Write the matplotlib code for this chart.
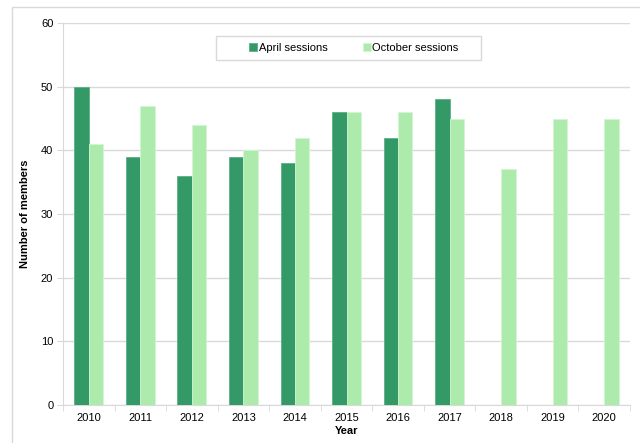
import numpy as np
import matplotlib.pyplot as plt
from matplotlib.patches import Rectangle

plt.rcParams['font.family'] = ['Liberation Sans', 'DejaVu Sans']

years = ['2010', '2011', '2012', '2013', '2014', '2015', '2016', '2017', '2018', '2019', '2020']
april = [50, 39, 36, 39, 38, 46, 42, 48, np.nan, np.nan, np.nan]
october = [41, 47, 44, 40, 42, 46, 46, 45, 37, 45, 45]

dark = '#339966'
light = '#ADEBAD'

fig = plt.figure(figsize=(6.4, 4.43), dpi=100)
# outer chart frame
fig.patches.append(Rectangle((12 / 640, -0.05), 1.0, 1 - 7 / 443 + 0.05, transform=fig.transFigure,
                             fill=False, edgecolor='#D9D9D9', linewidth=1.0))
ax = fig.add_axes([63 / 640, 38 / 443, 567 / 640, 382 / 443])

x = np.arange(len(years))
w = 0.28
ax.bar(x - w / 2, april, w, color=dark, edgecolor='#5DB085', linewidth=0.6, label='April sessions', zorder=3)
ax.bar(x + w / 2, october, w, color=light, edgecolor='#D4F5D4', linewidth=0.6, label='October sessions', zorder=3)

ax.set_xlim(-0.5, len(years) - 0.5)
ax.set_ylim(0, 60)
ax.set_yticks(range(0, 61, 10))
ax.set_xticks(x)
ax.set_xticklabels(years)
ax.set_xticks(np.arange(-0.5, len(years), 1), minor=True)
ax.tick_params(axis='x', which='major', length=0, pad=6, labelsize=8, colors='#000000')
ax.tick_params(axis='x', which='minor', length=4, color='#D9D9D9', direction='out')
ax.tick_params(axis='y', length=4, color='#D9D9D9', labelsize=8, pad=3)
ax.grid(axis='y', color='#D9D9D9', linewidth=1.0, zorder=0)
for side in ['top', 'right']:
    ax.spines[side].set_visible(False)
ax.spines['left'].set_color('#D9D9D9')
ax.spines['bottom'].set_color('#D9D9D9')

ax.set_ylabel('Number of members', fontsize=8, fontweight='bold', labelpad=8)
ax.set_xlabel('Year', fontsize=8, fontweight='bold', labelpad=2)

# legend box drawn separately so it can be wider than the entries
ax.add_patch(Rectangle((0.270, 0.903), 0.467, 0.063, transform=ax.transAxes, facecolor='white',
                       edgecolor='#D9D9D9', linewidth=1.0, zorder=5))
leg = ax.legend(loc='center', bbox_to_anchor=(0.513, 0.9345), ncol=2, fontsize=8,
                frameon=False, handlelength=0.7, handleheight=0.7, handletextpad=0.15,
                columnspacing=3.2, borderpad=0, borderaxespad=0)
leg.set_zorder(6)

fig.savefig('out.png', dpi=100)
